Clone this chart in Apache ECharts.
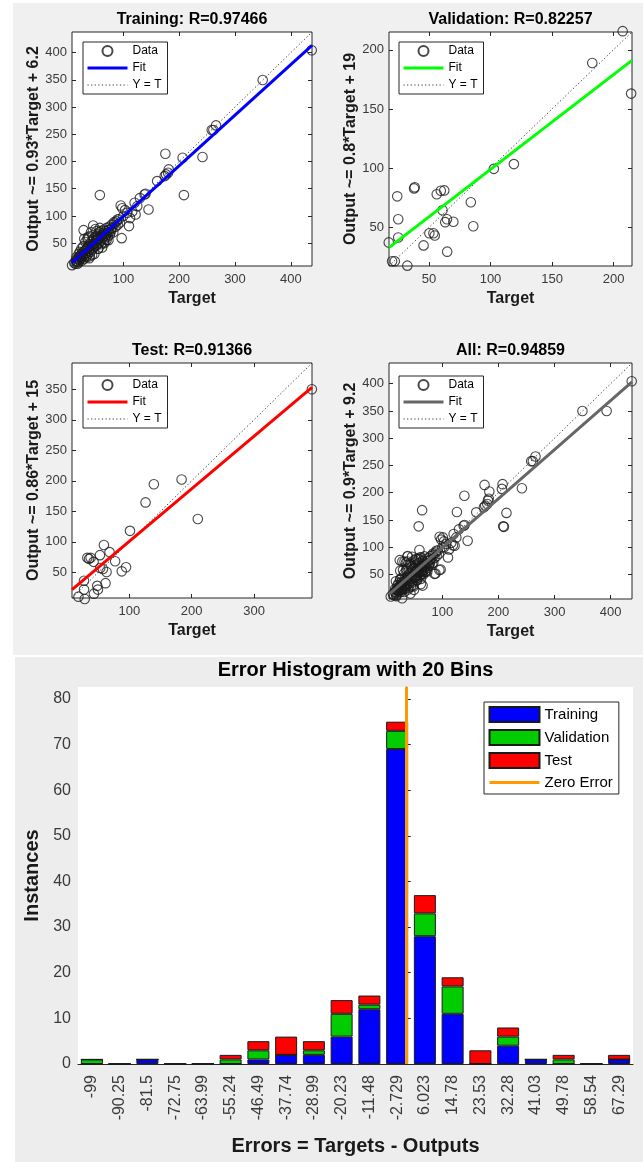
<!DOCTYPE html>
<html>
<head>
<meta charset="utf-8">
<script src="https://cdn.jsdelivr.net/npm/echarts@6/dist/echarts.min.js"></script>
<style>html,body{margin:0;padding:0;background:#fff;}#c{width:643px;height:1162px;}</style>
</head>
<body>
<div id="c"></div>
<script>
// ---------------- DATA ----------------
// [target, output]
const trainData = [
 [437.5,404.4],[349.7,349.8],[258.4,257.9],[266,266.4],[261.3,257.9],[175.3,214.3],[206.2,207],[241.8,208.2],
 [208.5,138.3],[57.9,138.3],[160.5,164],[174.1,173.2],[180.1,179.4],[181.3,185.5],[176.5,176.3],[138,139.5],
 [139.7,140.7],[129.7,132.8],[120.2,124.2],[145.1,111.9],[95.3,119.3],[107.1,105.8],[121.9,102.7],[110.1,81.3],
 [97,59.2],[103,110.7],[89.3,93.5],[83.4,88.6],[28.8,73.9],[46,82.5],[35.9,56.7],[54.9,39.6],[38.9,22.4],
 [8.1,9.6],[73.3,55.5],[112,96],[100,100],[116,108],[125,118],[98,114],
 [12,14],[14,12],[15,18],[17,16],[18,22],[19,20],[20,15],[21,25],[22,19],[23,27],[24,22],[25,30],[26,24],
 [27,33],[28,28],[29,21],[30,35],[31,30],[32,26],[33,38],[34,32],[35,40],[36,29],[37,44],[38,36],[39,48],
 [40,40],[41,34],[42,52],[43,45],[44,38],[45,55],[46,48],[47,42],[48,60],[49,50],[50,45],[51,62],[52,55],
 [53,47],[54,66],[55,58],[56,50],[57,70],[58,60],[59,53],[60,64],[61,72],[62,57],[63,68],[64,62],[65,75],
 [66,66],[67,58],[68,72],[69,64],[70,78],[71,68],[72,62],[73,74],[74,70],[75,80],[76,66],[77,76],[78,72],
 [79,84],[80,78],[82,70],[84,86],[86,80],[88,90],[90,84],[92,94],[94,88],[38,62],[42,70],[45,64],[50,76],
 [32,52],[28,44],[25,40],[30,58],[55,40],[60,48],[48,30],[65,52],[70,56],[36,60],[52,72],[58,78],[40,26],
 [44,28],[20,30],[16,24],[62,42],[66,50],[18,12],[26,18],[34,24],[22,34]
];
const valData = [
 [207.4,215.7],[182.7,188.8],[214.3,163],[119,103.5],[102.7,99.5],[37.9,83],[38.4,84],[24.2,76.3],
 [59.6,81],[62.4,81.3],[56.3,78],[84,71.3],[61,64.6],[25,57],[64.6,57],[63.2,54.5],[69.8,54.8],[86,51.1],
 [25,41.6],[50.3,45.2],[53.6,45.2],[54.7,43.3],[45.6,34.9],[17.3,37.4],[64.8,29.6],[20,21.5],[22.2,21.5],[32.4,17.8]
];
const testData = [
 [392.8,350],[183.8,202.2],[139.3,194.4],[126,164.6],[209.8,137.4],[101,118],[59.2,94.8],[68.2,83.2],
 [52.8,78.2],[32.6,73.8],[37.9,73.8],[35.3,72.1],[42.7,67.2],[77.2,68.3],[94.7,58.3],[87.8,51.7],[57.6,55.5],
 [53.3,57.2],[63.4,50.6],[27.3,36.2],[27.3,21.8],[48.5,27.9],[61.8,32.3],[49.6,21.8],[43.2,15.1],[18.3,10.2],[28.4,6.3]
];
const allExtra = [[64,168]];
const allData = trainData.concat(valData, testData, allExtra);

// fit: [slope, intercept]
const trainFit = [0.93, 6.2];
const valFit = [0.8, 19];
const testFit = [0.86, 15];
const allFit = [0.9, 9.2];
const trainR = '0.97466', valR = '0.82257', testR = '0.91366', allR = '0.94859';

// axis limits (same for target and output)
const trainLims = [8, 438];
const valLims = [17.5, 215];
const testLims = [8, 393];
const allLims = [5, 438];

// tick labels
const trainXTicks = [100, 200, 300, 400];
const trainYTicks = [50, 100, 150, 200, 250, 300, 350, 400];
const valXTicks = [50, 100, 150, 200];
const valYTicks = [50, 100, 150, 200];
const testXTicks = [100, 200, 300];
const testYTicks = [50, 100, 150, 200, 250, 300, 350];
const allXTicks = [100, 200, 300, 400];
const allYTicks = [50, 100, 150, 200, 250, 300, 350, 400];

// error histogram
const binLabels = ['-99','-90.25','-81.5','-72.75','-63.99','-55.24','-46.49','-37.74','-28.99','-20.23',
  '-11.48','-2.729','6.023','14.78','23.53','32.28','41.03','49.78','58.54','67.29'];
const histTraining   = [0,0,1,0,0,0,1,2,2,6,12,69,28,11,0,4,1,0,0,1];
const histValidation = [1,0,0,0,0,1,2,0,1,5,1,4,5,6,0,2,0,1,0,0];
const histTest       = [0,0,0,0,0,1,2,4,2,3,2,2,4,2,3,2,0,1,0,1];
const histYTicks = [0,10,20,30,40,50,60,70,80];
const histYMax = 82.6;

// ---------------- LAYOUT / STYLE ----------------
const FONT = '"Liberation Sans", Arial, Helvetica, sans-serif';
const AX = '#262626';
const LBL = '#3a3a3a';
const NOFILL = {color:'rgba(0,0,0,0)', borderColor:'rgba(0,0,0,0)', borderWidth:0};

const panels = [
  {title:'Training', R:trainR, data:trainData, fit:trainFit, lims:trainLims, xt:trainXTicks, yt:trainYTicks, color:'#0000ff',
   grid:{left:72, top:32, width:240, height:234}, titleY:20, legend:[83,42]},
  {title:'Validation', R:valR, data:valData, fit:valFit, lims:valLims, xt:valXTicks, yt:valYTicks, color:'#00ff00',
   grid:{left:389, top:32, width:243, height:234}, titleY:20, legend:[399,42]},
  {title:'Test', R:testR, data:testData, fit:testFit, lims:testLims, xt:testXTicks, yt:testYTicks, color:'#ff0000',
   grid:{left:72, top:363, width:240, height:235}, titleY:351, legend:[83,376]},
  {title:'All', R:allR, data:allData, fit:allFit, lims:allLims, xt:allXTicks, yt:allYTicks, color:'#666666',
   grid:{left:389, top:363, width:243, height:236}, titleY:351, legend:[399,376]}
];

const grids = [], xAxes = [], yAxes = [], series = [], legends = [];
const graphics = [
  {type:'rect', z:-10, shape:{x:13, y:3, width:630, height:652}, style:{fill:'#f0f0f0'}},
  {type:'rect', z:-10, shape:{x:15, y:657, width:628, height:505}, style:{fill:'#ededed'}}
];

function tickCfg(vals, show){
  return {show:show, inside:true, length:4, customValues:vals, lineStyle:{color:AX, width:1}};
}

panels.forEach((p, i) => {
  grids.push(Object.assign({show:true, backgroundColor:'#fff', borderColor:AX, borderWidth:1}, p.grid));
  const lo = p.lims[0], hi = p.lims[1];
  xAxes.push({type:'value', gridIndex:i, min:lo, max:hi, position:'bottom',
    axisLine:{show:false}, axisTick:tickCfg(p.xt, true),
    axisLabel:{customValues:p.xt, fontSize:13, color:LBL, margin:7, fontFamily:FONT},
    splitLine:{show:false},
    name:'Target', nameLocation:'middle', nameGap:25,
    nameTextStyle:{fontWeight:'bold', fontSize:16, color:'#1a1a1a', fontFamily:FONT}});
  xAxes.push({type:'value', gridIndex:i, min:lo, max:hi, position:'top',
    axisLine:{show:false}, axisTick:tickCfg(p.xt, true), axisLabel:{show:false}, splitLine:{show:false}});
  yAxes.push({type:'value', gridIndex:i, min:lo, max:hi, position:'left',
    axisLine:{show:false}, axisTick:tickCfg(p.yt, true),
    axisLabel:{customValues:p.yt, fontSize:13, color:LBL, margin:5, fontFamily:FONT},
    splitLine:{show:false},
    name:'Output ~= ' + p.fit[0] + '*Target + ' + p.fit[1], nameLocation:'middle', nameGap:30,
    nameTextStyle:{fontWeight:'bold', fontSize:16, color:'#1a1a1a', fontFamily:FONT}});
  yAxes.push({type:'value', gridIndex:i, min:lo, max:hi, position:'right',
    axisLine:{show:false}, axisTick:tickCfg(p.yt, true), axisLabel:{show:false}, splitLine:{show:false}});

  const xi = 2*i, yi = 2*i;
  series.push({name:'Data#'+i, type:'scatter', xAxisIndex:xi, yAxisIndex:yi, data:p.data,
    symbol:'circle', symbolSize:9.5, silent:true, clip:false,
    itemStyle:{color:'rgba(0,0,0,0)', borderColor:'#1a1a1a', borderWidth:1.1}});
  series.push({name:'Fit#'+i, type:'line', xAxisIndex:xi, yAxisIndex:yi, symbol:'circle', showSymbol:false, silent:true,
    z:3, itemStyle:NOFILL,
    data:[[lo, p.fit[0]*lo + p.fit[1]], [hi, p.fit[0]*hi + p.fit[1]]],
    lineStyle:{color:p.color, width:3}});
  series.push({name:'Y = T#'+i, type:'line', xAxisIndex:xi, yAxisIndex:yi, symbol:'circle', showSymbol:false, silent:true,
    z:2, itemStyle:NOFILL,
    data:[[lo, lo], [hi, hi]],
    lineStyle:{color:'#333', width:1, type:[1.2, 2.4]}});

  legends.push({data:['Data#'+i, 'Fit#'+i, 'Y = T#'+i], orient:'vertical', left:p.legend[0], top:p.legend[1],
    formatter:n => n.split('#')[0], selectedMode:false, backgroundColor:'#fff', borderColor:AX, borderWidth:1,
    borderRadius:0, padding:[3,6,3,3], itemGap:5, itemWidth:40, itemHeight:10,
    lineStyle:{width:'inherit'},
    textStyle:{fontSize:12, color:'#000', fontFamily:FONT}});

  graphics.push({type:'text', z:10, style:{text:p.title + ': R=' + p.R,
    x:p.grid.left + p.grid.width/2, y:p.titleY, textAlign:'center', align:'center',
    textVerticalAlign:'middle', verticalAlign:'middle',
    font:'bold 16px ' + FONT, fill:'#000'}});
});

// histogram
const hg = {left:78, top:687, width:555, height:377};
grids.push({show:true, backgroundColor:'#fff', borderWidth:0, left:hg.left, top:hg.top, width:hg.width, height:hg.height});
const centers = binLabels.map(Number);
const binW = (centers[centers.length-1] - centers[0]) / (centers.length - 1);
xAxes.push({type:'category', gridIndex:4, data:binLabels, boundaryGap:true,
  axisLine:{show:true, lineStyle:{color:AX, width:1}}, axisTick:{show:false},
  axisLabel:{interval:0, rotate:90, fontSize:16, color:LBL, margin:11, fontFamily:FONT},
  name:'Errors = Targets - Outputs', nameLocation:'middle', nameGap:72,
  nameTextStyle:{fontWeight:'bold', fontSize:20, color:'#1a1a1a', fontFamily:FONT}});
xAxes.push({type:'value', gridIndex:4, show:false,
  min:centers[0] - binW/2, max:centers[centers.length-1] + binW/2});
yAxes.push({type:'value', gridIndex:4, min:0, max:histYMax,
  axisLine:{show:true, lineStyle:{color:AX, width:1}},
  axisTick:{show:true, inside:true, length:5, customValues:histYTicks, lineStyle:{color:AX}},
  axisLabel:{customValues:histYTicks, fontSize:16, color:LBL, margin:7, fontFamily:FONT},
  splitLine:{show:false},
  name:'Instances', nameLocation:'middle', nameGap:33,
  nameTextStyle:{fontWeight:'bold', fontSize:20, color:'#1a1a1a', fontFamily:FONT}});

const histSeries = [['Training', histTraining, '#0000ff'], ['Validation', histValidation, '#00cc00'], ['Test', histTest, '#ff0000']];
histSeries.forEach(s => {
  series.push({name:s[0], type:'bar', xAxisIndex:8, yAxisIndex:8, stack:'err', barWidth:22, data:s[1], silent:true,
    color:s[2], itemStyle:{color:s[2], borderColor:'#1a1a1a', borderWidth:1}});
});
series.push({name:'Zero Error', type:'line', xAxisIndex:9, yAxisIndex:8, data:[], symbol:'circle', showSymbol:false,
  itemStyle:NOFILL, lineStyle:{color:'#ff9900', width:3}, z:5,
  markLine:{silent:true, symbol:'none', label:{show:false}, lineStyle:{color:'#ff9900', width:3, type:'solid'},
    data:[{xAxis:0}]}});
legends.push({data:[{name:'Training', icon:'rect'},{name:'Validation', icon:'rect'},{name:'Test', icon:'rect'},'Zero Error'],
  orient:'vertical', left:484, top:702,
  selectedMode:false, backgroundColor:'#fff', borderColor:AX, borderWidth:1, borderRadius:0,
  padding:[4,6,4,4], itemGap:6, itemWidth:50, itemHeight:15,
  lineStyle:{width:'inherit'},
  textStyle:{fontSize:15, color:'#000', fontFamily:FONT}});
graphics.push({type:'text', z:10, style:{text:'Error Histogram with ' + binLabels.length + ' Bins',
  x:hg.left + hg.width/2, y:670, textAlign:'center', align:'center', textVerticalAlign:'middle', verticalAlign:'middle',
  font:'bold 20px ' + FONT, fill:'#000'}});

const chart = echarts.init(document.getElementById('c'), null, {renderer:'canvas'});
chart.setOption({
  animation:false,
  backgroundColor:'#fff',
  grid:grids, xAxis:xAxes, yAxis:yAxes, series:series, legend:legends, graphic:graphics
});
</script>
</body>
</html>
